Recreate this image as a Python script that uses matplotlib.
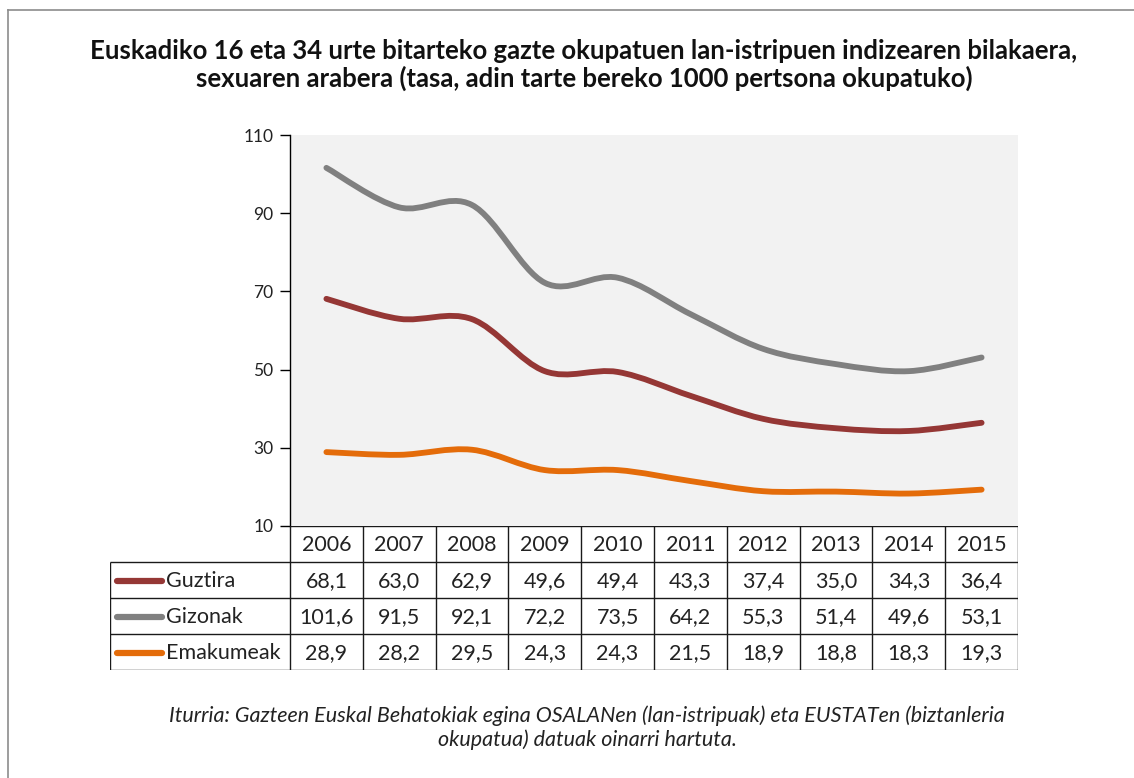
import matplotlib
matplotlib.use("Agg")
import matplotlib.pyplot as plt
from matplotlib.path import Path
from matplotlib.patches import PathPatch
from matplotlib.lines import Line2D

years = ["2006", "2007", "2008", "2009", "2010", "2011", "2012", "2013", "2014", "2015"]
guztira = [68.1, 63.0, 62.9, 49.6, 49.4, 43.3, 37.4, 35.0, 34.3, 36.4]
gizonak = [101.6, 91.5, 92.1, 72.2, 73.5, 64.2, 55.3, 51.4, 49.6, 53.1]
emakumeak = [28.9, 28.2, 29.5, 24.3, 24.3, 21.5, 18.9, 18.8, 18.3, 19.3]
series_names = ["Guztira", "Gizonak", "Emakumeak"]
series_values = [guztira, gizonak, emakumeak]
colors = ["#953735", "#808080", "#E46C0A"]
yticks = [10, 30, 50, 70, 90, 110]

title = ("Euskadiko 16 eta 34 urte bitarteko gazte okupatuen lan-istripuen indizearen bilakaera,\n"
         "sexuaren arabera (tasa, adin tarte bereko 1000 pertsona okupatuko)")
source = ("Iturria: Gazteen Euskal Behatokiak egina OSALANen (lan-istripuak) eta EUSTATen (biztanleria\n"
          "okupatua) datuak oinarri hartuta.")

W, H = 1134, 778
fig = plt.figure(figsize=(W / 100, H / 100), dpi=100)
FONT = "Lato"

def fx(px):
    return px / W

def fy(py):
    return 1 - py / H

# frame
fig.add_artist(Line2D([fx(8), 1.0], [fy(10), fy(10)], color="#8c8c8c", lw=1.2))
fig.add_artist(Line2D([fx(8), fx(8)], [fy(10), 0.0], color="#8c8c8c", lw=1.2))

fig.text(fx(584), fy(65), title, ha="center", va="center", fontsize=18.5,
         fontweight="bold", family=FONT, linespacing=1.17, color="#111111")

# main axes
ax = fig.add_axes([fx(290), fy(526), fx(1018) - fx(290), fy(135) - fy(526)])
ax.set_facecolor("#F2F2F2")
ax.set_xlim(-0.5, len(years) - 0.5)
ax.set_ylim(10, 110)
ax.set_yticks(yticks)
ax.set_yticklabels([str(t) for t in yticks], family=FONT, fontsize=12.5, color="#222222")
ax.tick_params(axis="y", length=7, width=1, direction="out", pad=5)
ax.set_xticks([])
for s in ["top", "right", "bottom"]:
    ax.spines[s].set_visible(False)
ax.spines["left"].set_linewidth(1)

def smooth_path(xs, ys):
    pts = list(zip(xs, ys))
    n = len(pts)
    verts = [pts[0]]
    codes = [Path.MOVETO]
    for i in range(n - 1):
        p0 = pts[i - 1] if i > 0 else pts[i]
        p1 = pts[i]
        p2 = pts[i + 1]
        p3 = pts[i + 2] if i + 2 < n else pts[i + 1]
        c1 = (p1[0] + (p2[0] - p0[0]) / 6, p1[1] + (p2[1] - p0[1]) / 6)
        c2 = (p2[0] - (p3[0] - p1[0]) / 6, p2[1] - (p3[1] - p1[1]) / 6)
        verts += [c1, c2, p2]
        codes += [Path.CURVE4] * 3
    return Path(verts, codes)

xs = list(range(len(years)))
for vals, c in zip(series_values, colors):
    patch = PathPatch(smooth_path(xs, vals), facecolor="none", edgecolor=c,
                      lw=4.2, capstyle="round", joinstyle="round")
    ax.add_patch(patch)

# table axes
label_w = 180 / 72.8
tx = fig.add_axes([fx(110), fy(670), fx(1018) - fx(110), fy(526) - fy(670)])
tx.set_xlim(-0.5 - label_w, len(years) - 0.5)
tx.set_ylim(4, 0)
tx.axis("off")
lc = "#1a1a1a"
lw = 1.0
TFS = 15.5
for i, yr in enumerate(years):
    tx.text(i, 0.52, yr, ha="center", va="center", family=FONT, fontsize=TFS, color="#222222")
tx.plot([-0.5, len(years) - 0.5], [0, 0], color=lc, lw=lw, solid_capstyle="butt")
for r in range(1, 5):
    tx.plot([-0.5 - label_w, len(years) - 0.5], [r, r], color=lc, lw=lw, solid_capstyle="butt")
for i in range(len(years) + 1):
    tx.plot([i - 0.5, i - 0.5], [0, 4], color=lc, lw=lw, solid_capstyle="butt")
tx.plot([-0.5 - label_w, -0.5 - label_w], [1, 4], color=lc, lw=lw, solid_capstyle="butt")

px = 1 / 72.8
for r, (name, vals, c) in enumerate(zip(series_names, series_values, colors)):
    y = r + 1.52
    x0 = -0.5 - label_w
    tx.plot([x0 + 7 * px, x0 + 52 * px], [y, y], color=c, lw=4.5, solid_capstyle="round")
    tx.text(x0 + 56 * px, y, name, ha="left", va="center", family=FONT, fontsize=TFS, color="#222222")
    for i, v in enumerate(vals):
        tx.text(i, y, f"{v:.1f}".replace(".", ","), ha="center", va="center",
                family=FONT, fontsize=TFS, color="#222222")

fig.text(fx(587), fy(728), source, ha="center", va="center", fontsize=15.5,
         style="italic", family=FONT, linespacing=1.2, color="#222222")

fig.savefig("out.png", dpi=100)
